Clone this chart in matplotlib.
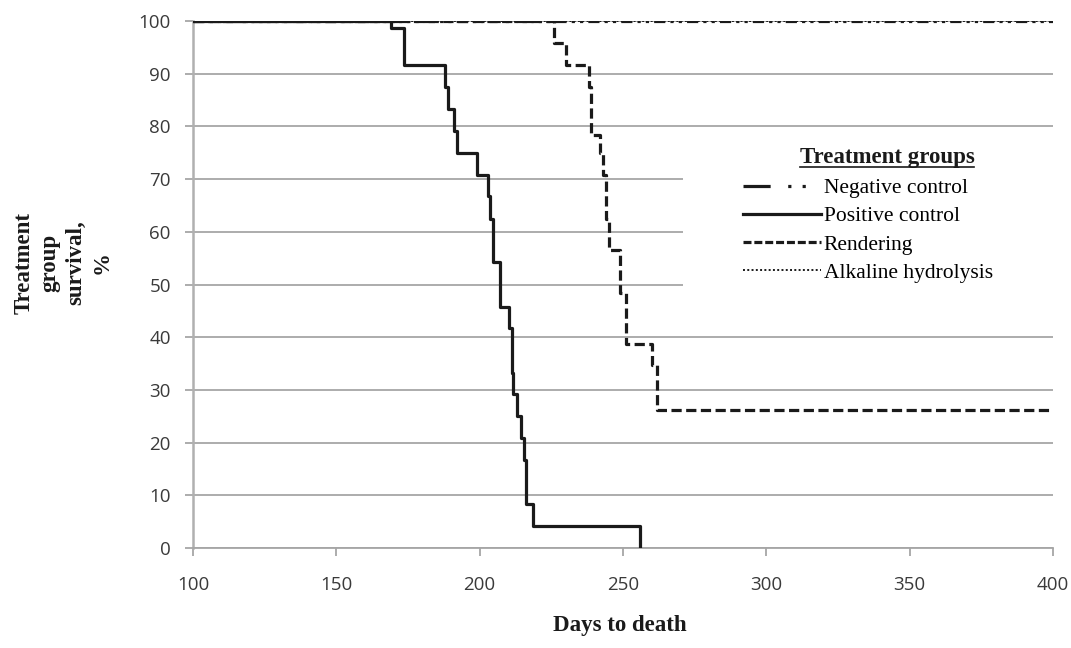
import matplotlib
matplotlib.use("Agg")
import matplotlib.pyplot as plt
from matplotlib.lines import Line2D
from matplotlib.patches import Rectangle

# ---- data ----
pos_days = [100, 169, 173.6, 188, 189, 191, 192.2, 199.2, 203, 203.6, 204.7, 207.1,
            210.2, 211.2, 211.7, 212.9, 214.3, 215.5, 216.2, 218.7, 256]
pos_surv = [100, 98.6, 91.7, 87.5, 83.3, 79.2, 75.0, 70.8, 66.7, 62.5, 54.2, 45.8,
            41.7, 33.3, 29.2, 25.0, 20.8, 16.7, 8.3, 4.2, 0]

rend_days = [100, 225.9, 230, 238.1, 238.8, 242, 243.1, 244.2, 245.1, 248.9, 251, 260, 261.7, 400]
rend_surv = [100, 95.8, 91.7, 87.5, 78.3, 75.0, 70.8, 62.5, 56.5, 48.3, 38.8, 34.7, 26.1, 26.1]

neg_days = [100, 400]
neg_surv = [100, 100]

alk_days = [100, 400]
alk_surv = [100, 100]

labels = ["Negative control", "Positive control", "Rendering", "Alkaline hydrolysis"]
xticks = [100, 150, 200, 250, 300, 350, 400]
yticks = list(range(0, 101, 10))

W, H = 1071, 648
fig = plt.figure(figsize=(W / 100, H / 100), dpi=100)
ax = fig.add_axes([193 / W, 1 - 548 / H, (1053 - 193) / W, (548 - 21) / H])

grid_c = "#a6a6a6"
line_c = "#1a1a1a"

ax.set_xlim(100, 400)
ax.set_ylim(0, 100)
ax.set_xticks(xticks)
ax.set_yticks(yticks)
ax.yaxis.grid(True, color=grid_c, linewidth=1.3, zorder=0)
ax.set_axisbelow(True)
for s in ["top", "right"]:
    ax.spines[s].set_visible(False)
ax.spines["left"].set_color("#b0b0b0")
ax.spines["left"].set_linewidth(1.8)
ax.spines["bottom"].set_color(grid_c)
ax.spines["bottom"].set_linewidth(1.3)
ax.tick_params(axis="both", colors=grid_c, length=6, width=1.3,
               labelcolor="#3a3a3a", labelsize=13.5)
ax.tick_params(axis="x", pad=14)
ax.tick_params(axis="y", pad=10)
for lab in ax.get_xticklabels() + ax.get_yticklabels():
    lab.set_fontfamily("Open Sans")

# white box behind legend hides gridlines
ax.add_patch(Rectangle((683 / W, 1 - 320 / H), (1071 - 683) / W, (320 - 138) / H,
                       transform=fig.transFigure, facecolor="white", edgecolor="none",
                       zorder=1.5))

lw = 2.3
ax.step(rend_days, rend_surv, where="post", color=line_c, linewidth=lw,
        linestyle=(0, (3.2, 1.4)), zorder=3)
ax.step(neg_days, neg_surv, where="post", color=line_c, linewidth=lw,
        linestyle=(0, (3.5, 1.6, 1, 1.6, 1, 1.6)), zorder=3)
ax.step(alk_days, alk_surv, where="post", color=line_c, linewidth=1.4,
        linestyle=(0, (1, 1.2)), zorder=3)
ax.step(pos_days, pos_surv, where="post", color=line_c, linewidth=lw,
        linestyle="-", zorder=4)

# legend
handles = [
    Line2D([], [], color=line_c, linewidth=lw, linestyle=(0, (8.5, 5.5, 1, 3.5, 1, 10))),
    Line2D([], [], color=line_c, linewidth=lw, linestyle="-"),
    Line2D([], [], color=line_c, linewidth=lw, linestyle=(0, (2.5, 0.9))),
    Line2D([], [], color=line_c, linewidth=1.4, linestyle=(0, (1, 1.2))),
]
leg = ax.legend(handles, labels, loc="upper left",
                bbox_to_anchor=(743 / W, 1 - 178 / H), bbox_transform=fig.transFigure,
                frameon=False, prop={"family": "Liberation Serif", "size": 15.5},
                handlelength=3.6, handletextpad=0.15, labelspacing=0.38,
                borderpad=0, borderaxespad=0)
leg.set_zorder(5)

# legend title with underline
title = fig.text(887 / W, 1 - 157 / H, "Treatment groups", ha="center", va="center",
                 family="Liberation Serif", weight="bold", fontsize=16.5, color=line_c)
fig.canvas.draw()
bb = title.get_window_extent(renderer=fig.canvas.get_renderer())
uy = 1 - 167 / H
fig.add_artist(Line2D([bb.x0 / W, bb.x1 / W], [uy, uy], transform=fig.transFigure,
                      color=line_c, linewidth=1.2))

# axis labels
fig.text(63 / W, 1 - 263 / H, "Treatment\ngroup\nsurvival,\n%", rotation=90,
         ha="center", va="center", multialignment="center",
         family="Liberation Serif", weight="bold", fontsize=16.5, color=line_c,
         linespacing=1.3)
fig.text(620 / W, 1 - 625 / H, "Days to death", ha="center", va="center",
         family="Liberation Serif", weight="bold", fontsize=16.5, color=line_c)

fig.savefig("out.png", dpi=100)
